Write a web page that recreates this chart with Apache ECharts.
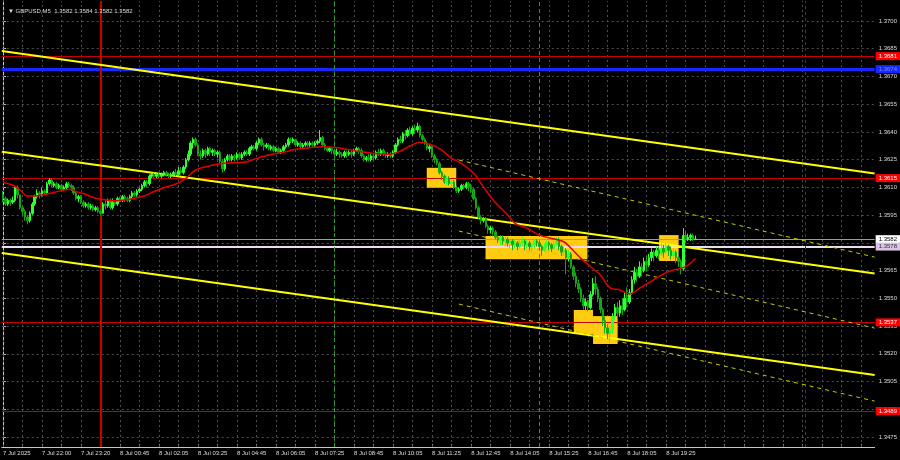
<!DOCTYPE html>
<html><head><meta charset="utf-8">
<script src="https://cdn.jsdelivr.net/npm/echarts@6/dist/echarts.min.js"></script>
<style>html,body{margin:0;padding:0;background:#000}#c{width:900px;height:460px}</style>
</head><body><div id="c"></div>
<script>
// ---------- data ----------
const symbolTitle = 'GBPUSD,M5';
const titleQuote = [1.3582, 1.3584, 1.3582, 1.3582];
const tickLabels = ['7 Jul 2025','7 Jul 22:00','7 Jul 23:20','8 Jul 00:45','8 Jul 02:05','8 Jul 03:25','8 Jul 04:45','8 Jul 06:05','8 Jul 07:25','8 Jul 08:45','8 Jul 10:05','8 Jul 11:25','8 Jul 12:45','8 Jul 14:05','8 Jul 15:25','8 Jul 16:45','8 Jul 18:05','8 Jul 19:25'];
const labelStep = 16;
const slotCount = 358;
const priceTicks = [1.3475,1.3490,1.3505,1.3520,1.3535,1.3550,1.3565,1.3580,1.3595,1.3610,1.3625,1.3640,1.3655,1.3670,1.3685,1.3700];
const priceMin = 1.34696, priceMax = 1.371082;

// [open, close, low, high]
const ohlc = [
[1.3606,1.3604,1.3602,1.3608],[1.3604,1.3601,1.3600,1.3605],[1.3601,1.3603,1.3600,1.3604],[1.3603,1.3602,1.3600,1.3604],
[1.3602,1.3603,1.3601,1.3605],[1.3603,1.3610,1.3602,1.3611],[1.3610,1.3606,1.3604,1.3611],[1.3606,1.3599,1.3598,1.3606],
[1.3599,1.3597,1.3595,1.3600],[1.3597,1.3594,1.3592,1.3598],[1.3594,1.3592,1.3590,1.3595],[1.3592,1.3596,1.3591,1.3597],
[1.3596,1.3601,1.3595,1.3602],[1.3601,1.3605,1.3600,1.3606],[1.3605,1.3607,1.3604,1.3609],[1.3607,1.3606,1.3604,1.3608],
[1.3606,1.3608,1.3605,1.3610],[1.3608,1.3607,1.3606,1.3609],[1.3607,1.3612,1.3606,1.3613],[1.3612,1.3614,1.3611,1.3615],
[1.3614,1.3611,1.3610,1.3615],[1.3611,1.3612,1.3610,1.3613],[1.3612,1.3610,1.3609,1.3613],[1.3610,1.3611,1.3609,1.3612],
[1.3611,1.3609,1.3608,1.3612],[1.3609,1.3610,1.3608,1.3611],[1.3610,1.3612,1.3609,1.3613],[1.3612,1.3611,1.3610,1.3613],
[1.3611,1.3610,1.3608,1.3612],[1.3610,1.3607,1.3606,1.3611],[1.3607,1.3604,1.3603,1.3608],[1.3604,1.3605,1.3602,1.3606],
[1.3605,1.3602,1.3601,1.3606],[1.3602,1.3600,1.3599,1.3603],[1.3600,1.3601,1.3599,1.3602],[1.3601,1.3599,1.3598,1.3602],
[1.3599,1.3600,1.3598,1.3601],[1.3600,1.3598,1.3597,1.3601],[1.3598,1.3599,1.3597,1.3600],[1.3599,1.3597,1.3596,1.3600],
[1.3597,1.3596,1.3595,1.3598],[1.3596,1.3601,1.3596,1.3602],[1.3601,1.3600,1.3598,1.3603],[1.3600,1.3603,1.3599,1.3604],
[1.3603,1.3599,1.3598,1.3604],[1.3599,1.3602,1.3598,1.3604],[1.3602,1.3601,1.3600,1.3603],[1.3601,1.3604,1.3600,1.3605],
[1.3604,1.3603,1.3602,1.3605],[1.3603,1.3605,1.3602,1.3606],[1.3605,1.3604,1.3602,1.3606],[1.3604,1.3603,1.3602,1.3605],
[1.3603,1.3605,1.3602,1.3606],[1.3605,1.3607,1.3604,1.3608],[1.3607,1.3606,1.3605,1.3608],[1.3606,1.3608,1.3605,1.3609],
[1.3608,1.3609,1.3607,1.3610],[1.3609,1.3611,1.3608,1.3612],[1.3611,1.3613,1.3610,1.3614],[1.3613,1.3612,1.3610,1.3614],
[1.3612,1.3616,1.3611,1.3617],[1.3616,1.3617,1.3615,1.3618],[1.3617,1.3616,1.3615,1.3618],[1.3616,1.3617,1.3615,1.3618],
[1.3617,1.3616,1.3615,1.3618],[1.3616,1.3617,1.3615,1.3618],[1.3617,1.3618,1.3616,1.3619],[1.3618,1.3617,1.3616,1.3619],
[1.3617,1.3616,1.3615,1.3618],[1.3616,1.3617,1.3615,1.3618],[1.3617,1.3618,1.3616,1.3619],[1.3618,1.3617,1.3616,1.3620],
[1.3617,1.3619,1.3616,1.3621],[1.3619,1.3618,1.3617,1.3621],[1.3618,1.3621,1.3617,1.3622],[1.3621,1.3625,1.3620,1.3626],
[1.3625,1.3628,1.3624,1.3630],[1.3628,1.3634,1.3627,1.3635],[1.3634,1.3636,1.3631,1.3637],[1.3636,1.3633,1.3632,1.3637],
[1.3633,1.3628,1.3627,1.3634],[1.3628,1.3627,1.3625,1.3630],[1.3627,1.3630,1.3626,1.3631],[1.3630,1.3628,1.3626,1.3631],
[1.3628,1.3631,1.3627,1.3632],[1.3631,1.3629,1.3627,1.3632],[1.3629,1.3630,1.3627,1.3631],[1.3630,1.3628,1.3627,1.3631],
[1.3628,1.3629,1.3626,1.3630],[1.3629,1.3624,1.3623,1.3630],[1.3624,1.3620,1.3618,1.3625],[1.3620,1.3625,1.3619,1.3626],
[1.3625,1.3627,1.3624,1.3628],[1.3627,1.3625,1.3624,1.3628],[1.3625,1.3627,1.3624,1.3628],[1.3627,1.3626,1.3624,1.3628],
[1.3626,1.3628,1.3625,1.3629],[1.3628,1.3626,1.3625,1.3629],[1.3626,1.3628,1.3625,1.3629],[1.3628,1.3629,1.3627,1.3630],
[1.3629,1.3628,1.3627,1.3630],[1.3628,1.3631,1.3627,1.3632],[1.3631,1.3632,1.3630,1.3633],[1.3632,1.3631,1.3630,1.3633],
[1.3631,1.3634,1.3630,1.3635],[1.3634,1.3636,1.3633,1.3637],[1.3636,1.3633,1.3632,1.3637],[1.3633,1.3632,1.3630,1.3634],
[1.3632,1.3633,1.3631,1.3634],[1.3633,1.3631,1.3630,1.3634],[1.3631,1.3632,1.3630,1.3633],[1.3632,1.3630,1.3629,1.3633],
[1.3630,1.3631,1.3629,1.3632],[1.3631,1.3629,1.3628,1.3632],[1.3629,1.3630,1.3628,1.3631],[1.3630,1.3632,1.3629,1.3633],
[1.3632,1.3633,1.3631,1.3634],[1.3633,1.3636,1.3632,1.3637],[1.3636,1.3635,1.3634,1.3637],[1.3635,1.3636,1.3634,1.3637],
[1.3636,1.3633,1.3632,1.3636],[1.3633,1.3634,1.3632,1.3635],[1.3634,1.3632,1.3631,1.3635],[1.3632,1.3633,1.3631,1.3634],
[1.3633,1.3634,1.3632,1.3635],[1.3634,1.3633,1.3631,1.3635],[1.3633,1.3634,1.3632,1.3635],[1.3634,1.3633,1.3632,1.3635],
[1.3633,1.3634,1.3632,1.3635],[1.3634,1.3635,1.3633,1.3636],[1.3635,1.3637,1.3634,1.3641],[1.3637,1.3633,1.3632,1.3638],
[1.3633,1.3631,1.3630,1.3634],[1.3631,1.3630,1.3629,1.3632],[1.3630,1.3631,1.3629,1.3632],[1.3631,1.3630,1.3628,1.3632],
[1.3630,1.3628,1.3627,1.3631],[1.3628,1.3629,1.3627,1.3631],[1.3629,1.3628,1.3626,1.3630],[1.3628,1.3627,1.3626,1.3629],
[1.3627,1.3629,1.3626,1.3630],[1.3629,1.3628,1.3626,1.3630],[1.3628,1.3629,1.3627,1.3630],[1.3629,1.3628,1.3626,1.3630],
[1.3628,1.3630,1.3627,1.3631],[1.3630,1.3631,1.3629,1.3632],[1.3631,1.3630,1.3628,1.3632],[1.3630,1.3627,1.3626,1.3631],
[1.3627,1.3625,1.3624,1.3628],[1.3625,1.3626,1.3624,1.3627],[1.3626,1.3625,1.3624,1.3628],[1.3625,1.3627,1.3624,1.3628],
[1.3627,1.3626,1.3625,1.3628],[1.3626,1.3629,1.3625,1.3630],[1.3629,1.3628,1.3627,1.3631],[1.3628,1.3630,1.3627,1.3631],
[1.3630,1.3628,1.3627,1.3631],[1.3628,1.3627,1.3626,1.3629],[1.3627,1.3628,1.3626,1.3629],[1.3628,1.3627,1.3626,1.3629],
[1.3627,1.3629,1.3626,1.3630],[1.3629,1.3633,1.3628,1.3634],[1.3633,1.3636,1.3632,1.3637],[1.3636,1.3635,1.3634,1.3638],
[1.3635,1.3639,1.3634,1.3640],[1.3639,1.3638,1.3636,1.3641],[1.3638,1.3641,1.3637,1.3642],[1.3641,1.3639,1.3638,1.3643],
[1.3639,1.3642,1.3638,1.3643],[1.3642,1.3641,1.3639,1.3644],[1.3641,1.3643,1.3640,1.3645],[1.3643,1.3638,1.3637,1.3644],
[1.3638,1.3636,1.3635,1.3639],[1.3636,1.3634,1.3633,1.3637],[1.3634,1.3631,1.3630,1.3635],[1.3631,1.3632,1.3629,1.3633],
[1.3632,1.3627,1.3626,1.3633],[1.3627,1.3625,1.3623,1.3628],[1.3625,1.3623,1.3622,1.3626],[1.3623,1.3618,1.3617,1.3624],
[1.3618,1.3616,1.3614,1.3619],[1.3616,1.3613,1.3612,1.3617],[1.3613,1.3615,1.3611,1.3616],[1.3615,1.3612,1.3611,1.3616],
[1.3612,1.3613,1.3610,1.3614],[1.3613,1.3610,1.3609,1.3614],[1.3610,1.3608,1.3607,1.3611],[1.3608,1.3609,1.3607,1.3610],
[1.3609,1.3611,1.3608,1.3612],[1.3611,1.3610,1.3609,1.3612],[1.3610,1.3612,1.3609,1.3613],[1.3612,1.3610,1.3608,1.3613],
[1.3610,1.3609,1.3607,1.3612],[1.3609,1.3604,1.3603,1.3610],[1.3604,1.3599,1.3598,1.3605],[1.3599,1.3594,1.3593,1.3600],
[1.3594,1.3592,1.3590,1.3595],[1.3592,1.3593,1.3591,1.3594],[1.3593,1.3589,1.3588,1.3594],[1.3589,1.3587,1.3585,1.3590],
[1.3587,1.3588,1.3585,1.3589],[1.3588,1.3586,1.3584,1.3589],[1.3586,1.3583,1.3582,1.3587],[1.3583,1.3582,1.3580,1.3584],
[1.3582,1.3583,1.3579,1.3584],[1.3583,1.3581,1.3579,1.3584],[1.3581,1.3582,1.3578,1.3583],[1.3582,1.3580,1.3578,1.3583],
[1.3580,1.3581,1.3577,1.3582],[1.3581,1.3579,1.3576,1.3582],[1.3579,1.3580,1.3577,1.3582],[1.3580,1.3578,1.3576,1.3581],
[1.3578,1.3580,1.3577,1.3582],[1.3580,1.3581,1.3579,1.3583],[1.3581,1.3579,1.3576,1.3582],[1.3579,1.3580,1.3577,1.3582],
[1.3580,1.3578,1.3576,1.3581],[1.3578,1.3579,1.3575,1.3580],[1.3579,1.3581,1.3577,1.3582],[1.3581,1.3580,1.3578,1.3582],
[1.3580,1.3578,1.3576,1.3581],[1.3578,1.3576,1.3573,1.3579],[1.3576,1.3578,1.3575,1.3580],[1.3578,1.3580,1.3577,1.3582],
[1.3580,1.3579,1.3576,1.3581],[1.3579,1.3577,1.3575,1.3580],[1.3577,1.3579,1.3576,1.3581],[1.3579,1.3581,1.3578,1.3583],
[1.3581,1.3578,1.3576,1.3583],[1.3578,1.3575,1.3573,1.3579],[1.3575,1.3576,1.3573,1.3578],[1.3576,1.3572,1.3563,1.3577],
[1.3572,1.3574,1.3570,1.3576],[1.3574,1.3567,1.3566,1.3575],[1.3567,1.3562,1.3560,1.3568],[1.3562,1.3558,1.3556,1.3564],
[1.3558,1.3555,1.3553,1.3560],[1.3555,1.3550,1.3548,1.3556],[1.3550,1.3546,1.3544,1.3552],[1.3546,1.3548,1.3543,1.3550],
[1.3548,1.3545,1.3543,1.3549],[1.3545,1.3552,1.3544,1.3554],[1.3552,1.3558,1.3551,1.3561],[1.3558,1.3555,1.3552,1.3562],
[1.3555,1.3550,1.3548,1.3556],[1.3550,1.3544,1.3542,1.3551],[1.3544,1.3538,1.3535,1.3545],[1.3538,1.3534,1.3531,1.3540],
[1.3534,1.3531,1.3528,1.3536],[1.3531,1.3533,1.3526,1.3535],[1.3533,1.3540,1.3531,1.3542],[1.3540,1.3545,1.3538,1.3547],
[1.3545,1.3542,1.3539,1.3548],[1.3542,1.3546,1.3540,1.3549],[1.3546,1.3544,1.3541,1.3550],[1.3544,1.3550,1.3543,1.3553],
[1.3550,1.3548,1.3545,1.3556],[1.3548,1.3553,1.3547,1.3555],[1.3553,1.3560,1.3552,1.3562],[1.3560,1.3564,1.3558,1.3567],
[1.3564,1.3562,1.3559,1.3566],[1.3562,1.3567,1.3561,1.3570],[1.3567,1.3565,1.3562,1.3569],[1.3565,1.3570,1.3564,1.3572],
[1.3570,1.3568,1.3565,1.3573],[1.3568,1.3572,1.3567,1.3574],[1.3572,1.3575,1.3570,1.3577],[1.3575,1.3573,1.3570,1.3576],
[1.3573,1.3576,1.3572,1.3578],[1.3576,1.3574,1.3571,1.3578],[1.3574,1.3577,1.3573,1.3580],[1.3577,1.3575,1.3572,1.3579],
[1.3575,1.3578,1.3574,1.3580],[1.3578,1.3576,1.3573,1.3579],[1.3576,1.3573,1.3571,1.3578],[1.3573,1.3575,1.3571,1.3577],
[1.3575,1.3572,1.3569,1.3576],[1.3572,1.3570,1.3567,1.3573],[1.3570,1.3566,1.3563,1.3571],[1.3566,1.3584,1.3565,1.3588],
[1.3584,1.3582,1.3580,1.3586],[1.3582,1.3583,1.3581,1.3585],[1.3583,1.3584,1.3581,1.3585],[1.3584,1.3582,1.3581,1.3585],
[1.3582,1.3582,1.3582,1.3584]
];

// moving average: bar index / value
const maIdx = [0,4,7,10,13,17,21,25,28,30,34,38,42,46,50,54,58,62,66,71,75,79,85,89,94,99,104,109,115,120,126,131,135,139,147,152,159,163,167,171,175,180,184,188,193,197,201,207,210,215,220,226,230,233,237,241,245,249,253,257,261,266,270,274,278,281,284];
const maVal = [1.36127,1.36113,1.36086,1.36053,1.36053,1.36062,1.36073,1.36086,1.36090,1.36077,1.36062,1.36041,1.36032,1.36028,1.36032,1.36041,1.36055,1.36078,1.36098,1.36119,1.36149,1.36194,1.36217,1.36228,1.36233,1.36236,1.36257,1.36275,1.36290,1.36306,1.36315,1.36320,1.36317,1.36311,1.36293,1.36284,1.36280,1.36297,1.36325,1.36344,1.36333,1.36302,1.36257,1.36230,1.36176,1.36104,1.36032,1.35951,1.35906,1.35879,1.35842,1.35821,1.35806,1.35771,1.35716,1.35671,1.35626,1.35557,1.35545,1.35523,1.35554,1.35593,1.35626,1.35649,1.35662,1.35680,1.35716];

// trend channel lines: [barFrom, priceFrom, barTo, priceTo]
const channelSolid = [[-0.5,1.36838,357.5,1.36175],[-0.5,1.36293,357.5,1.35635],[-0.5,1.35745,357.5,1.35085]];
const channelDashed = [[187,1.36248,357.5,1.35723],[187,1.35864,357.5,1.35339],[187,1.35469,357.5,1.34944]];
// signal boxes: [barFrom, priceTop, barTo, priceBottom]
const signalBoxes = [[173.8,1.36206,185.9,1.36098],[197.9,1.35837,239.7,1.35712],[269.1,1.35842,277.1,1.35702],[234.1,1.35437,242.0,1.35307],[242.0,1.35404,252.1,1.35253]];
const redLevels = [1.3681, 1.3615, 1.3537, 1.3489];
const blueLevel = 1.3674;
const bidLevel = 1.3582;
const lilacLevel = 1.3578;
const daySeparators = [40, 329];
const sessionMarks = [136, 220];
const gridBars = [0,8,16,24,32,40,48,56,64,72,80,88,96,104,112,120,128,136,144,152,160,168,176,184,192,200,208,216,224,232,240,248,256,264,272,280,288,296,304,312,320,328,336,344,352];

// ---------- chart ----------
const FONT = 'Liberation Sans';
const TXT = '#dcdcdc';
const chart = echarts.init(document.getElementById('c'));
const slots = Array.from({length: slotCount}, (_, i) => String(i));
const f4 = v => v.toFixed(4);

function tag(v, bg, fg) {
  return {yAxis: v, label: {show: true, position: 'end', distance: 1, formatter: f4(v), color: fg,
    backgroundColor: bg, padding: [1, 3, 1, 3], fontSize: 6, fontFamily: FONT}};
}

const levelLines = [
  ...redLevels.map(v => Object.assign(tag(v, '#ff0000', '#ffffff'), {lineStyle: {color: '#c80000', width: 1, type: 'solid'}})),
  Object.assign(tag(blueLevel, '#1428ff', '#7f90ff'), {lineStyle: {color: '#1428ff', width: 3, type: 'solid'}}),
  Object.assign(tag(bidLevel, '#ffffff', '#000000'), {lineStyle: {color: '#9a9aa8', width: 1, type: 'solid'}}),
  Object.assign(tag(lilacLevel, '#d8c4e4', '#303030'), {lineStyle: {color: '#ecdcf0', width: 2, type: 'solid'}}),
  {xAxis: daySeparators[0], lineStyle: {color: '#c80000', width: 2, type: 'solid'}},
  {xAxis: daySeparators[1], lineStyle: {color: '#c80000', width: 1, type: [3, 3]}},
  ...sessionMarks.map(b => ({xAxis: b, lineStyle: {color: '#2f9a2f', width: 1, type: [4, 3]}}))
];

const series = [
  { // grid
    type: 'line', xAxisIndex: 1, data: [], z: 1,
    markLine: {silent: true, symbol: 'none', animation: false, precision: 6, z: 1, label: {show: false},
      lineStyle: {color: '#4e4e4e', width: 1, type: [2, 3]},
      data: [...priceTicks.map(v => ({yAxis: v})), ...gridBars.map(b => ({xAxis: b}))]}
  },
  { // boxes
    type: 'line', xAxisIndex: 1, data: [], z: 2,
    markArea: {silent: true, animation: false, z: 2, itemStyle: {color: '#ffcc11', opacity: 1},
      data: signalBoxes.map(b => [{coord: [b[0], b[1]]}, {coord: [b[2], b[3]]}])}
  },
  { // levels and separators
    type: 'line', xAxisIndex: 1, data: [], z: 3,
    markLine: {silent: true, symbol: 'none', animation: false, precision: 6, z: 3, label: {show: false}, data: levelLines}
  },
  ...channelSolid.map(l => ({type: 'line', xAxisIndex: 1, z: 4, showSymbol: false, silent: true,
    data: [[l[0], l[1]], [l[2], l[3]]], lineStyle: {color: '#ffff00', width: 2}})),
  ...channelDashed.map(l => ({type: 'line', xAxisIndex: 1, z: 4, showSymbol: false, silent: true,
    data: [[l[0], l[1]], [l[2], l[3]]], lineStyle: {color: '#c8c800', width: 1, type: [4, 4]}})),
  {
    type: 'candlestick', xAxisIndex: 0, z: 5, barWidth: 2, silent: true,
    data: ohlc,
    itemStyle: {color: '#33ff33', color0: '#12a812', borderColor: '#33ff33', borderColor0: '#12a812', borderWidth: 1}
  },
  {
    type: 'line', xAxisIndex: 1, z: 6, showSymbol: false, silent: true, smooth: 0.35,
    data: maIdx.map((b, i) => [b, maVal[i]]), lineStyle: {color: '#e00000', width: 1.5}
  }
];

chart.setOption({
  animation: false,
  backgroundColor: '#000000',
  title: {text: '\u25BC ' + symbolTitle + '  ' + titleQuote.map(f4).join(' '), left: 3, top: 3,
    textStyle: {color: TXT, fontSize: 6, fontWeight: 'normal', fontFamily: FONT}},
  grid: {left: 0, right: 25, top: 1, bottom: 13, containLabel: false},
  xAxis: [
    {type: 'category', data: slots, boundaryGap: true,
     axisLine: {show: true, lineStyle: {color: '#c8c8c8', width: 1}},
     axisTick: {show: true, alignWithLabel: true, inside: true, length: 3, interval: (i) => i % 8 === 0, lineStyle: {color: '#9a9a9a'}},
     axisLabel: {show: true, interval: (i) => i % labelStep === 0 && i / labelStep < tickLabels.length,
       formatter: (v, i) => tickLabels[Math.round(Number(v) / labelStep)] || '',
       align: 'left', color: TXT, fontSize: 6, fontFamily: FONT, margin: 3},
     splitLine: {show: false}},
    {type: 'value', min: -0.5, max: slotCount - 0.5, show: false, splitLine: {show: false}}
  ],
  yAxis: {type: 'value', position: 'right', min: priceMin, max: priceMax, scale: true,
    axisLine: {show: true, lineStyle: {color: '#c8c8c8', width: 1}},
    axisTick: {show: true, length: 3, customValues: priceTicks, lineStyle: {color: '#bbbbbb'}},
    axisLabel: {show: true, customValues: priceTicks, formatter: f4, color: TXT, fontSize: 6, fontFamily: FONT, margin: 4},
    splitLine: {show: false}},
  series
});
</script>
</body></html>
